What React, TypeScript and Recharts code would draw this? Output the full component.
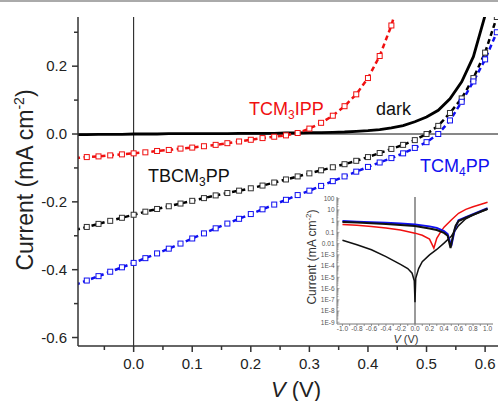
import { LineChart, Line, XAxis, YAxis, ReferenceLine } from "recharts";

const FONT = '"Liberation Sans", Arial, sans-serif';

// main J-V curves: V in volts, current in mA cm^-2
const voltage = [
  -0.1, -0.08, -0.06, -0.04, -0.02, 0.0, 0.02, 0.04, 0.06, 0.08, 0.1, 0.12, 0.14, 0.16, 0.18, 0.2, 0.22, 0.24, 0.26,
  0.28, 0.3, 0.32, 0.34, 0.36, 0.38, 0.4, 0.42, 0.44, 0.46, 0.48, 0.5, 0.52, 0.54, 0.56, 0.58, 0.6, 0.62,
];
const tcm3ippCurrent = [
  -0.071, -0.068, -0.066, -0.063, -0.06, -0.057, -0.054, -0.05, -0.047, -0.043, -0.04, -0.036, -0.032, -0.027, -0.022,
  -0.017, -0.012, -0.008, -0.004, 0.003, 0.016, 0.033, 0.054, 0.082, 0.117, 0.165, 0.23, 0.32, 0.44,
  null, null, null, null, null, null, null, null,
];
const tbcm3ppCurrent = [
  -0.283, -0.274, -0.265, -0.256, -0.247, -0.238, -0.229, -0.221, -0.213, -0.205, -0.197, -0.189, -0.181, -0.174,
  -0.167, -0.16, -0.152, -0.143, -0.134, -0.125, -0.116, -0.107, -0.098, -0.089, -0.079, -0.068, -0.056, -0.044,
  -0.032, -0.018, 0.0, 0.024, 0.062, 0.105, 0.165, 0.24, 0.345,
];
const tcm4ppCurrent = [
  -0.445, -0.432, -0.419, -0.406, -0.393, -0.38, -0.366, -0.352, -0.338, -0.323, -0.308, -0.293, -0.278, -0.264,
  -0.25, -0.236, -0.222, -0.208, -0.194, -0.18, -0.167, -0.153, -0.139, -0.125, -0.111, -0.097, -0.084, -0.071,
  -0.057, -0.041, -0.024, 0.0, 0.04, 0.095, 0.155, 0.22, 0.3,
];
const darkCurrent = [
  -0.002, -0.002, -0.001, -0.001, -0.001, 0.0, 0.0, 0.0, 0.001, 0.001, 0.001, 0.001, 0.001, 0.001, 0.002, 0.002, 0.002,
  0.002, 0.003, 0.003, 0.004, 0.004, 0.005, 0.006, 0.008, 0.01, 0.013, 0.018, 0.025, 0.036, 0.05, 0.07, 0.104, 0.154,
  0.228, 0.35, 0.52,
];

const majorX = [0, 0.1, 0.2, 0.3, 0.4, 0.5, 0.6];
const majorXLabels = ["0.0", "0.1", "0.2", "0.3", "0.4", "0.5", "0.6"];
const minorX = [-0.05, 0.05, 0.15, 0.25, 0.35, 0.45, 0.55];
const majorY = [-0.6, -0.4, -0.2, 0, 0.2];
const majorYLabels = ["-0.6", "-0.4", "-0.2", "0.0", "0.2"];
const minorY = [-0.5, -0.3, -0.1, 0.1, 0.3];

// inset: |current| on log scale, -1..1 V
const insetTcm4ppV = [-1.0, -0.8, -0.6, -0.4, -0.2, 0.0, 0.2, 0.3, 0.4, 0.45, 0.5, 0.55, 0.6, 0.7, 0.8, 0.9, 1.0];
const insetTcm4ppI = [1.0, 0.9, 0.8, 0.7, 0.6, 0.5, 0.34, 0.25, 0.13, 0.07, 0.006, 0.2, 1.2, 2.3, 4.2, 7.8, 14];
const insetTbcm3ppV = [-1.0, -0.8, -0.6, -0.4, -0.2, 0.0, 0.2, 0.3, 0.4, 0.45, 0.49, 0.53, 0.56, 0.6, 0.7, 0.8, 0.9, 1.0];
const insetTbcm3ppI = [0.85, 0.75, 0.65, 0.56, 0.46, 0.36, 0.22, 0.16, 0.09, 0.05, 0.004, 0.08, 0.4, 1.0, 2.0, 3.7, 6.8, 12.5];
const insetTcm3ippV = [-1.0, -0.8, -0.6, -0.4, -0.2, 0.0, 0.1, 0.2, 0.26, 0.3, 0.35, 0.4, 0.5, 0.6, 0.7, 0.8, 0.9, 1.0];
const insetTcm3ippI = [0.5, 0.42, 0.34, 0.25, 0.16, 0.085, 0.055, 0.025, 0.004, 0.03, 0.1, 0.29, 1.26, 5.0, 11, 19, 30, 48];
const insetDarkV = [
  -1.0, -0.8, -0.6, -0.4, -0.2, -0.1, -0.04, -0.01, 0.0, 0.01, 0.05, 0.1, 0.2, 0.3, 0.4, 0.5, 0.6, 0.7, 0.8, 0.9, 1.0,
];
const insetDarkI = [
  0.02, 0.008, 0.0028, 7e-4, 1.4e-4, 6e-5, 2.3e-5, 5e-6, 6e-8, 8e-6, 6e-5, 2.5e-4, 1e-3, 3e-3, 0.011, 0.045, 0.4, 1.6,
  3.4, 6.5, 11,
];

const insetXTicks = [-1.0, -0.8, -0.6, -0.4, -0.2, 0.0, 0.2, 0.4, 0.6, 0.8, 1.0];
const insetXLabels = ["-1.0", "-0.8", "-0.6", "-0.4", "-0.2", "0.0", "0.2", "0.4", "0.6", "0.8", "1.0"];
const insetXMinor = [-0.9, -0.7, -0.5, -0.3, -0.1, 0.1, 0.3, 0.5, 0.7, 0.9];
const insetYTicks = [1e-9, 1e-8, 1e-7, 1e-6, 1e-5, 1e-4, 1e-3, 0.01, 0.1, 1, 10, 100];
const insetYLabels = ["1E-9", "1E-8", "1E-7", "1E-6", "1E-5", "1E-4", "1E-3", "0.01", "0.1", "1", "10", "100"];

const mainData = voltage.map((v, i) => ({
  v,
  tcm3ipp: tcm3ippCurrent[i],
  tbcm3pp: tbcm3ppCurrent[i],
  tcm4pp: tcm4ppCurrent[i],
  dark: darkCurrent[i],
}));

const pairs = (xs: number[], ys: number[]) => xs.map((v, i) => ({ v, i: ys[i] }));

const insetMinorY: number[] = [];
insetYTicks.slice(0, -1).forEach((d) => {
  for (let k = 2; k <= 9; k++) insetMinorY.push(d * k);
});

const RED = "#f01010";
const BLUE = "#1010f0";

const MainXTick = (props: any) => {
  const { x, y, payload } = props;
  const i = majorX.indexOf(payload.value);
  return (
    <g>
      <line x1={x} x2={x} y1={y} y2={y + (i >= 0 ? 6 : 4)} stroke="#333" strokeWidth={1.5} />
      {i >= 0 && (
        <text x={x} y={y + 23} textAnchor="middle" fontSize={15} fill="#222" fontFamily={FONT}>
          {majorXLabels[i]}
        </text>
      )}
    </g>
  );
};

const MainYTick = (props: any) => {
  const { x, y, payload } = props;
  const i = majorY.indexOf(payload.value);
  return (
    <g>
      <line x1={x} x2={x - (i >= 0 ? 6 : 4)} y1={y} y2={y} stroke="#333" strokeWidth={1.5} />
      {i >= 0 && (
        <text x={x - 11} y={y + 5} textAnchor="end" fontSize={15} fill="#222" fontFamily={FONT}>
          {majorYLabels[i]}
        </text>
      )}
    </g>
  );
};

const InsetXTick = (props: any) => {
  const { x, y, payload } = props;
  const i = insetXTicks.indexOf(payload.value);
  return (
    <g>
      <line x1={x} x2={x} y1={y} y2={y + 2} stroke="#777" strokeWidth={0.8} />
      {i >= 0 && (
        <text x={x} y={y + 6.5} textAnchor="middle" fontSize={6.5} fill="#555" fontFamily={FONT}>
          {insetXLabels[i]}
        </text>
      )}
    </g>
  );
};

const InsetYTick = (props: any) => {
  const { x, y, payload } = props;
  const i = insetYTicks.indexOf(payload.value);
  return (
    <g>
      <line x1={x} x2={x + (i >= 0 ? 2.5 : 1.5)} y1={y} y2={y} stroke="#777" strokeWidth={0.6} />
      {i >= 0 && (
        <text x={x - 2.5} y={y + 2.3} textAnchor="end" fontSize={6.5} fill="#555" fontFamily={FONT}>
          {insetYLabels[i]}
        </text>
      )}
    </g>
  );
};

const squareDot = (color: string) => (props: any) => {
  const { cx, cy, index } = props;
  if (cx == null || cy == null) return <g key={index} />;
  return (
    <rect key={index} x={cx - 2.5} y={cy - 2.5} width={5} height={5} fill="#fff" stroke={color} strokeWidth={1} />
  );
};

const App = () => {
  return (
    <div style={{ position: "absolute", left: 0, top: 0, width: 498, height: 401, background: "#fff" }}>
      <div style={{ position: "absolute", left: 0, top: 0 }}>
        <LineChart width={498} height={401} data={mainData} margin={{ top: 17, right: 0, bottom: 0, left: 0 }}>
          <XAxis
            dataKey="v"
            type="number"
            domain={[-0.095, 0.622]}
            allowDataOverflow
            ticks={[...minorX, ...majorX].sort((a, b) => a - b)}
            interval={0}
            tick={MainXTick}
            tickLine={false}
            tickSize={0}
            tickMargin={0}
            height={55}
            axisLine={{ stroke: "#333", strokeWidth: 1.5 }}
          />
          <YAxis
            type="number"
            domain={[-0.625, 0.345]}
            allowDataOverflow
            ticks={[...minorY, ...majorY].sort((a, b) => a - b)}
            interval={0}
            tick={MainYTick}
            tickLine={false}
            tickSize={0}
            tickMargin={0}
            width={78}
            axisLine={{ stroke: "#333", strokeWidth: 1.5 }}
          />
          <ReferenceLine x={0} stroke="#111" strokeWidth={1} />
          <ReferenceLine y={0} stroke="#111" strokeWidth={1} />
          <Line dataKey="dark" stroke="#000" strokeWidth={2.8} dot={false} isAnimationActive={false} />
          <Line
            dataKey="tbcm3pp"
            stroke="#000"
            strokeWidth={2.5}
            strokeDasharray="5 3.5"
            dot={squareDot("#333")}
            isAnimationActive={false}
          />
          <Line
            dataKey="tcm4pp"
            stroke={BLUE}
            strokeWidth={2.5}
            strokeDasharray="5 3.5"
            dot={squareDot(BLUE)}
            isAnimationActive={false}
          />
          <Line
            dataKey="tcm3ipp"
            stroke={RED}
            strokeWidth={2.5}
            strokeDasharray="5 3.5"
            dot={squareDot(RED)}
            isAnimationActive={false}
          />
        </LineChart>
      </div>

      <div style={{ position: "absolute", left: 300, top: 190 }}>
        <LineChart width={198} height={150} margin={{ top: 7, right: 5, bottom: 0, left: 0 }}>
          <XAxis
            dataKey="v"
            type="number"
            domain={[-1.075, 1.075]}
            allowDataOverflow
            ticks={[...insetXMinor, ...insetXTicks].sort((a, b) => a - b)}
            interval={0}
            tick={InsetXTick}
            tickLine={false}
            tickSize={0}
            tickMargin={0}
            height={16}
            axisLine={{ stroke: "#777", strokeWidth: 1 }}
          />
          <YAxis
            type="number"
            scale="log"
            domain={[7e-10, 140]}
            allowDataOverflow
            ticks={[...insetMinorY, ...insetYTicks].sort((a, b) => a - b)}
            interval={0}
            tick={InsetYTick}
            tickLine={false}
            tickSize={0}
            tickMargin={0}
            width={37}
            axisLine={{ stroke: "#777", strokeWidth: 1 }}
          />
          <ReferenceLine x={0} stroke="#9a9a9a" strokeWidth={2} />
          <Line
            data={pairs(insetDarkV, insetDarkI)}
            dataKey="i"
            stroke="#111"
            strokeWidth={1.5}
            dot={false}
            isAnimationActive={false}
          />
          <Line
            data={pairs(insetTcm3ippV, insetTcm3ippI)}
            dataKey="i"
            stroke={RED}
            strokeWidth={1.5}
            dot={false}
            isAnimationActive={false}
          />
          <Line
            data={pairs(insetTcm4ppV, insetTcm4ppI)}
            dataKey="i"
            stroke={BLUE}
            strokeWidth={2}
            dot={false}
            isAnimationActive={false}
          />
          <Line
            data={pairs(insetTbcm3ppV, insetTbcm3ppI)}
            dataKey="i"
            stroke="#111"
            strokeWidth={2}
            dot={false}
            isAnimationActive={false}
          />
        </LineChart>
      </div>

      <svg
        width={498}
        height={401}
        style={{ position: "absolute", left: 0, top: 0, pointerEvents: "none" }}
        fontFamily={FONT}
      >
        <rect x={0} y={0} width={498} height={2} fill="#aaa" />
        <text x={249} y={115} fontSize={18} fill={RED}>
          TCM<tspan dy={4} fontSize={12}>3</tspan>
          <tspan dy={-4}>IPP</tspan>
        </text>
        <text x={376} y={115} fontSize={18} fill="#111">
          dark
        </text>
        <text x={148} y={182} fontSize={18} fill="#111">
          TBCM<tspan dy={4} fontSize={12}>3</tspan>
          <tspan dy={-4}>PP</tspan>
        </text>
        <text x={420} y={172} fontSize={18} fill={BLUE}>
          TCM<tspan dy={4} fontSize={12}>4</tspan>
          <tspan dy={-4}>PP</tspan>
        </text>
        <text transform="translate(33,180) rotate(-90)" textAnchor="middle" fontSize={23} fill="#222">
          Current (mA cm<tspan dy={-9} fontSize={14}>-2</tspan>
          <tspan dy={9}>)</tspan>
        </text>
        <text x={296} y={397} textAnchor="middle" fontSize={22} fill="#222">
          <tspan fontStyle="italic">V</tspan> (V)
        </text>
        <text transform="translate(316,257) rotate(-90)" textAnchor="middle" fontSize={12} fill="#333">
          Current (mA cm<tspan dy={-5} fontSize={8}>-2</tspan>
          <tspan dy={5}>)</tspan>
        </text>
        <text x={406} y={343} textAnchor="middle" fontSize={11} fill="#333">
          <tspan fontStyle="italic">V</tspan> (V)
        </text>
      </svg>
    </div>
  );
};

export default App;
